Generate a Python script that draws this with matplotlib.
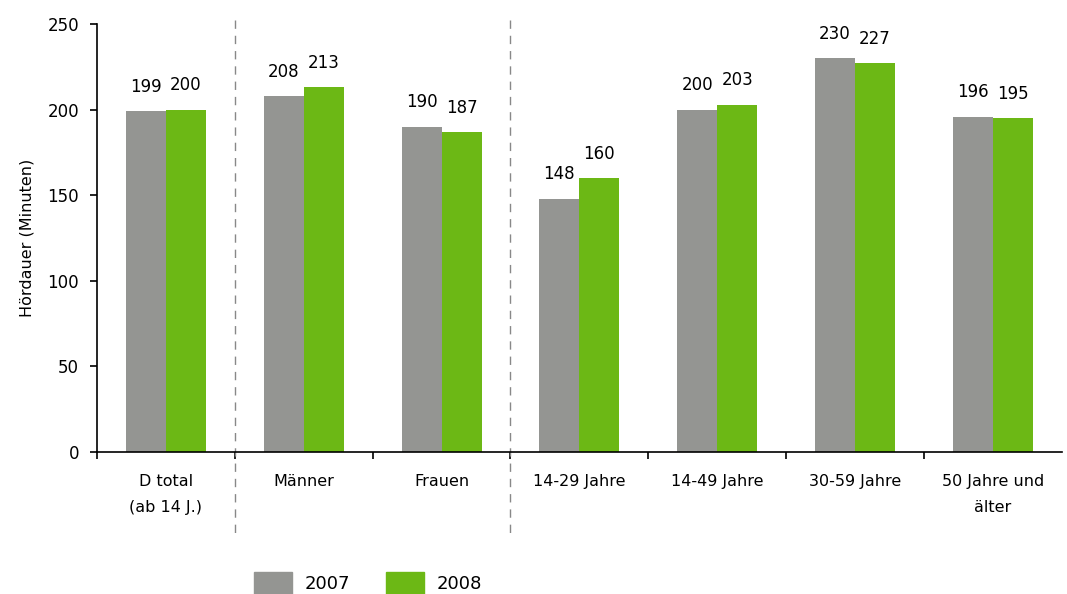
import matplotlib.pyplot as plt
import numpy as np
from matplotlib.patches import Patch

plt.rcParams["font.family"] = ["DejaVu Sans"]
plt.rcParams["font.size"] = 11.5

categories = ["D total\n(ab 14 J.)", "Männer", "Frauen", "14-29 Jahre",
              "14-49 Jahre", "30-59 Jahre", "50 Jahre und\nälter"]
values_2007 = [199, 208, 190, 148, 200, 230, 196]
values_2008 = [200, 213, 187, 160, 203, 227, 195]
years = ["2007", "2008"]

GRAY = "#949592"
GREEN = "#6cb815"

fig = plt.figure(figsize=(10.67, 5.94), dpi=100)
ax = fig.add_axes([0.091, 0.239, 0.904, 0.7205])

x = np.arange(len(categories))
w = 0.29
bars1 = ax.bar(x - w / 2, values_2007, w, color=GRAY)
bars2 = ax.bar(x + w / 2, values_2008, w, color=GREEN)

# value labels above each bar
for bars, vals in ((bars1, values_2007), (bars2, values_2008)):
    for b, v in zip(bars, vals):
        ax.text(b.get_x() + b.get_width() / 2, v + 9, str(v),
                ha="center", va="bottom", fontsize=12)

ax.set_xlim(-0.5, len(categories) - 0.5)
ax.set_ylim(0, 250)
ax.set_yticks(range(0, 251, 50))
ax.set_ylabel("Hördauer (Minuten)", labelpad=9)

# labels centred on groups, tick marks on group boundaries
ax.set_xticks(x)
ax.set_xticklabels(categories, linespacing=1.9)
ax.tick_params(axis="x", which="major", length=0, pad=16)
ax.set_xticks(np.arange(-0.5, len(categories) - 1), minor=True)
ax.tick_params(axis="x", which="minor", length=5, width=1.2, direction="out")
ax.tick_params(axis="y", length=5, width=1.2, direction="out", pad=8,
               labelsize=12)

for s in ("top", "right"):
    ax.spines[s].set_visible(False)
for s in ("left", "bottom"):
    ax.spines[s].set_linewidth(1.2)

# dashed separators between the groups of categories
for xs in (0.5, 2.5):
    ax.plot([xs, xs], [1.01, -0.19], transform=ax.get_xaxis_transform(),
            color="#888888", lw=1, ls=(0, (6, 5)), clip_on=False)

handles = [Patch(color=GRAY), Patch(color=GREEN)]
fig.legend(handles, years, loc="center", bbox_to_anchor=(0.345, 0.018),
           ncol=2, frameon=False, handlelength=2.1, handleheight=1.5,
           handletextpad=0.7, columnspacing=2.0, fontsize=13)

fig.savefig("out.png", dpi=100)
